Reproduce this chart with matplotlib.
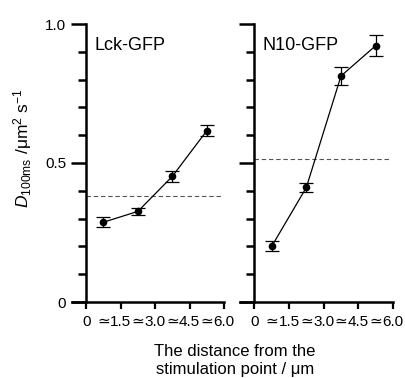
import numpy as np
import matplotlib
matplotlib.use("Agg")
import matplotlib.pyplot as plt
from matplotlib.ticker import FixedLocator

plt.rcParams['font.family'] = ['Liberation Sans', 'DejaVu Sans']
plt.rcParams['mathtext.fontset'] = 'custom'
plt.rcParams['mathtext.rm'] = 'Liberation Sans'
plt.rcParams['mathtext.it'] = 'Liberation Sans:italic'

##### Data #####
bin_centers = [0.75, 2.25, 3.75, 5.25]          # um, midpoints of 0-1.5, 1.5-3.0, ...
edge_labels = ["0", "1.5", "3.0", "4.5", "6.0"]
edges = [0, 1.5, 3.0, 4.5, 6.0]
y_major = [0, 0.5, 1.0]
y_major_labels = ["0", "0.5", "1.0"]
y_minor = [0.1, 0.2, 0.3, 0.4, 0.6, 0.7, 0.8, 0.9]

lck_mean = [0.287, 0.326, 0.452, 0.616]
lck_err = [0.018, 0.012, 0.021, 0.020]
lck_ref = 0.381

n10_mean = [0.200, 0.412, 0.813, 0.922]
n10_err = [0.018, 0.017, 0.032, 0.037]
n10_ref = 0.513

panels = [("Lck-GFP", lck_mean, lck_err, lck_ref),
          ("N10-GFP", n10_mean, n10_err, n10_ref)]

##### Figure #####
fig = plt.figure(figsize=(4.05, 3.78), dpi=100)
ax_left = fig.add_axes([72 / 405, 1 - 302 / 378, 152 / 405, 278 / 378])
ax_right = fig.add_axes([240 / 405, 1 - 302 / 378, 153 / 405, 278 / 378])

for i, (ax, (name, mean, err, ref)) in enumerate(zip([ax_left, ax_right], panels)):
    ax.set_xlim(-0.62, 6.0)
    ax.set_ylim(0, 1.0)
    ax.patch.set_visible(False)

    for s in ['top', 'right']:
        ax.spines[s].set_visible(False)
    ax.spines['left'].set_position(('data', 0))
    ax.spines['left'].set_linewidth(1.8)
    ax.spines['bottom'].set_linewidth(1.8)

    # dashed reference level
    ax.plot([0, 5.9], [ref, ref], ls=(0, (4, 2.5)), color='#555555', lw=0.8)

    ax.errorbar(bin_centers, mean, yerr=err, fmt='o-', color='black', ms=4.5,
                lw=0.9, elinewidth=0.9, capsize=5, capthick=0.9, clip_on=False)

    ax.yaxis.set_major_locator(FixedLocator(y_major))
    ax.yaxis.set_minor_locator(FixedLocator(y_minor))
    ax.tick_params(axis='y', which='major', direction='out', length=11, width=1.8)
    ax.tick_params(axis='y', which='minor', direction='out', length=6, width=1.8)
    if i == 0:
        ax.set_yticklabels(y_major_labels, fontsize=11)
    else:
        ax.set_yticklabels([])

    ax.xaxis.set_major_locator(FixedLocator(edges))
    ax.set_xticklabels(edge_labels, fontsize=11)
    ax.xaxis.set_minor_locator(FixedLocator(bin_centers))
    ax.set_xticklabels(["≃"] * 4, minor=True, fontsize=11)
    ax.tick_params(axis='x', which='major', direction='out', length=5, width=1.6, pad=4)
    ax.tick_params(axis='x', which='minor', length=0, pad=9)

    ax.text(0.35, 0.955, name, fontsize=13, va='top', ha='left')

fig.text(0.055, 1 - 148 / 378, r'$D_{\mathrm{100ms}}$ /μm$^{2}$ s$^{-1}$',
         rotation=90, fontsize=12.5, ha='center', va='center')
fig.text(0.58, 1 - 344 / 378, "The distance from the\nstimulation point / μm",
         ha='center', va='top', fontsize=12, linespacing=1.25)

fig.savefig("out.png", dpi=100)
